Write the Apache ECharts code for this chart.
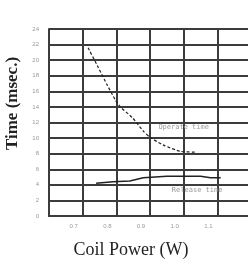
<!DOCTYPE html>
<html>
<head>
<meta charset="utf-8">
<script src="https://cdn.jsdelivr.net/npm/echarts@6/dist/echarts.min.js"></script>
<style>
  html, body { margin: 0; padding: 0; background: #fff; }
  #chart { width: 248px; height: 261px; }
</style>
</head>
<body>
<div id="chart"></div>
<script>
  // coil power (W) vs time (msec.)
  var xTicks = [0.7, 0.8, 0.9, 1.0, 1.1];
  var operatePower = [0.716, 0.746, 0.773, 0.797, 0.812, 0.848, 0.88, 0.90, 0.94, 0.99, 1.036];
  var operateTime = [21.6, 19.1, 16.8, 14.9, 14.0, 12.6, 10.9, 10.1, 9.1, 8.3, 8.2];
  var releasePower = [0.74, 0.79, 0.84, 0.88, 0.95, 1.05, 1.08, 1.11];
  var releaseTime = [4.2, 4.4, 4.5, 4.9, 5.1, 5.1, 4.9, 4.9];

  function pairs(xs, ys) {
    return xs.map(function (x, i) { return [x, ys[i]]; });
  }

  var chart = echarts.init(document.getElementById('chart'));
  var gridColor = '#3c3c3c';
  var noteLabel = { show: true, formatter: '{b}', fontSize: 7, color: '#999', fontFamily: 'DejaVu Sans Mono', position: 'inside' };
  var option = {
    animation: false,
    grid: { left: 49, width: 202, top: 29, bottom: 45, outerBoundsMode: 'none', containLabel: false },
    xAxis: {
      type: 'value',
      min: 0.6,
      max: 1.2,
      interval: 0.1,
      name: 'Coil Power (W)',
      nameLocation: 'middle',
      nameGap: 25,
      nameTextStyle: { fontFamily: 'Liberation Serif', fontSize: 18, color: '#222', padding: [0, 38, 0, 0] },
      axisLine: { lineStyle: { color: gridColor, width: 2 } },
      axisTick: { show: false },
      axisLabel: {
        fontSize: 6,
        color: '#999',
        margin: 7,
        padding: [0, 18, 0, 0],
        formatter: function (v) {
          var r = Math.round(v * 10) / 10;
          return xTicks.indexOf(r) >= 0 ? r.toFixed(1) : '';
        }
      },
      splitLine: { show: true, lineStyle: { color: gridColor, width: 2 } }
    },
    yAxis: {
      type: 'value',
      min: 0,
      max: 24,
      interval: 2,
      name: 'Time (msec.)',
      nameLocation: 'middle',
      nameGap: 28,
      nameTextStyle: { fontFamily: 'Liberation Serif', fontSize: 17, fontWeight: 'bold', color: '#222', padding: [0, 0, 0, 38] },
      axisLine: { show: true, lineStyle: { color: gridColor, width: 2 } },
      axisTick: { show: false },
      axisLabel: { fontSize: 6, color: '#999', margin: 10 },
      splitLine: { show: true, lineStyle: { color: gridColor, width: 2 } }
    },
    series: [
      {
        name: 'Operate time',
        type: 'line',
        data: pairs(operatePower, operateTime),
        smooth: 0.2,
        symbol: 'none',
        lineStyle: { color: '#222', width: 1.2, type: [3, 2] },
        markPoint: {
          symbol: 'circle',
          symbolSize: 1,
          itemStyle: { color: 'rgba(0,0,0,0)' },
          label: noteLabel,
          data: [{ name: 'Operate time', coord: [1.0, 11.4] }]
        }
      },
      {
        name: 'Release time',
        type: 'line',
        data: pairs(releasePower, releaseTime),
        symbol: 'none',
        lineStyle: { color: '#222', width: 1.5 },
        markPoint: {
          symbol: 'circle',
          symbolSize: 1,
          itemStyle: { color: 'rgba(0,0,0,0)' },
          label: noteLabel,
          data: [{ name: 'Release time', coord: [1.04, 3.3] }]
        }
      }
    ]
  };
  chart.setOption(option);
</script>
</body>
</html>
